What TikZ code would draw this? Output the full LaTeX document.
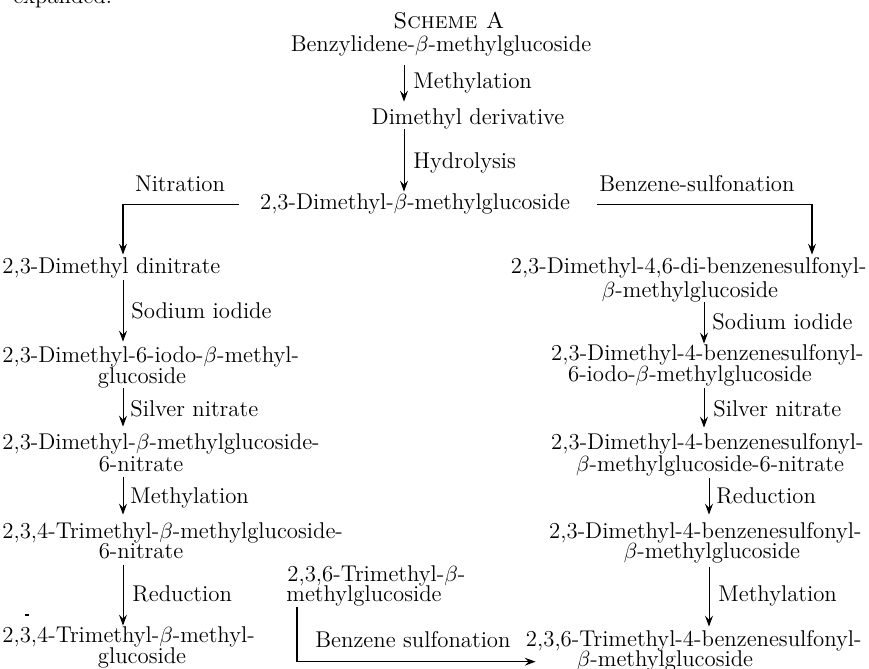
\documentclass[tikz,border=0pt]{standalone}
\usetikzlibrary{arrows.meta}
\begin{document}
\begin{tikzpicture}[x=0.5pt,y=-0.5pt,
  txt/.style={inner sep=0pt, font=\fontsize{11.4}{13}\selectfont, text height=8pt, text depth=2.5pt},
  cb/.style={txt, anchor=base},
  lb/.style={txt, anchor=base west},
  rb/.style={txt, anchor=base east},
  arr/.style={-{Stealth[length=5.5pt,width=4pt,inset=2pt]}, line width=0.5pt},
  conn/.style={-{Stealth[length=5.5pt,width=4pt,inset=2pt]}, line width=0.55pt}]
\useasboundingbox (0,0) rectangle (869,669);
% x positions of the vertical arrows
\coordinate (xC) at (404,0);
\coordinate (xL) at (123,0);
\coordinate (xR1) at (812,0);
\coordinate (xR2) at (704,0);
\coordinate (xR3) at (709,0);
\coordinate (xM) at (297,0);
% top
\node[lb] (exp) at (13,3.5) {expanded.};
\node[cb] (title) at (449,28) {\textsc{Scheme A}};
\node[cb] (benz) at (441,51) {Benzylidene-$\beta$-methylglucoside};
\node[lb] (l1) at (413,89) {Methylation};
\node[cb] (dimd) at (468,124) {Dimethyl derivative};
\node[lb] (l2) at (413,168) {Hydrolysis};
\node[cb] (c) at (415,209) {2,3-Dimethyl-$\beta$-methylglucoside};
\node[cb] (nitr) at (180,191) {Nitration};
\node[cb] (bsulf) at (697,191) {Benzene-sulfonation};
% left column
\node[lb] (L1) at (2,273) {2,3-Dimethyl dinitrate};
\node[lb] (ls1) at (131,318) {Sodium iodide};
\node[lb] (L2a) at (2,362) {2,3-Dimethyl-6-iodo-$\beta$-methyl-};
\node[cb] (L2b) at (142,383) {glucoside};
\node[lb] (ls2) at (130,416) {Silver nitrate};
\node[lb] (L3a) at (2,449) {2,3-Dimethyl-$\beta$-methylglucoside-};
\node[cb] (L3b) at (141,471) {6-nitrate};
\node[lb] (ls3) at (130,503) {Methylation};
\node[lb] (L4a) at (2,538) {2,3,4-Trimethyl-$\beta$-methylglucoside-};
\node[cb] (L4b) at (141,558) {6-nitrate};
\node[lb] (ls4) at (132,601) {Reduction};
\node[lb] (L5a) at (2,642) {2,3,4-Trimethyl-$\beta$-methyl-};
\node[cb] (L5b) at (142,663) {glucoside};
% middle bottom
\node[lb] (M1) at (287,581) {2,3,6-Trimethyl-$\beta$-};
\node[lb] (M2) at (286,601) {methylglucoside};
\node[lb] (lm) at (315,647) {Benzene sulfonation};
% right column
\node[rb] (R1a) at (867,273) {2,3-Dimethyl-4,6-di-benzenesulfonyl-};
\node[cb] (R1b) at (690,297) {$\beta$-methylglucoside};
\node[lb] (rs1) at (712,329) {Sodium iodide};
\node[rb] (R2a) at (864,360) {2,3-Dimethyl-4-benzenesulfonyl-};
\node[cb] (R2b) at (690,381) {6-iodo-$\beta$-methylglucoside};
\node[lb] (rs2) at (713,416) {Silver nitrate};
\node[rb] (R3a) at (864,449) {2,3-Dimethyl-4-benzenesulfonyl-};
\node[cb] (R3b) at (710,471) {$\beta$-methylglucoside-6-nitrate};
\node[lb] (rs3) at (716,503) {Reduction};
\node[rb] (R4a) at (862,538) {2,3-Dimethyl-4-benzenesulfonyl-};
\node[cb] (R4b) at (712,558) {$\beta$-methylglucoside};
\node[lb] (rs4) at (718,601) {Methylation};
\node[rb] (R5a) at (862,646) {2,3,6-Trimethyl-4-benzenesulfonyl-};
\node[cb] (R5b) at (665,666) {$\beta$-methylglucoside};
% centre arrows
\draw[arr, shorten <=4.5pt, shorten >=3pt] (benz.south -| xC) -- (dimd.north -| xC);
\draw[arr, shorten >=0.5pt] (dimd.south -| xC) -- (c.north -| xC);
% branches
\draw[conn, shorten <=10.5pt, shorten >=1pt] (c.mid west) -| (L1.north -| xL);
\draw[conn, shorten <=13.5pt, shorten >=1pt] (c.mid east) -| (R1a.north -| xR1);
% left arrows
\draw[arr, shorten <=1pt, shorten >=2pt] (L1.south -| xL) -- (L2a.north -| xL);
\draw[arr, shorten >=3pt] (L2b.south -| xL) -- (L3a.north -| xL);
\draw[arr, shorten <=0.5pt, shorten >=3.5pt] (L3b.south -| xL) -- (L4a.north -| xL);
\draw[arr, shorten <=1pt] (L4b.south -| xL) -- (L5a.north -| xL);
% right arrows
\draw[arr] (R1b.south -| xR2) -- (R2a.north -| xR2);
\draw[arr, shorten <=1pt, shorten >=2.5pt] (R2b.south -| xR2) -- (R3a.north -| xR2);
\draw[arr, shorten <=1pt, shorten >=3.5pt] (R3b.south -| xR3) -- (R4a.north -| xR3);
\draw[arr, shorten <=2pt, shorten >=1.5pt] (R4b.south -| xR3) -- (R5a.north -| xR3);
% bottom connector
\draw[conn, shorten <=0.5pt, shorten >=-5pt] (M2.south -| xM) |- (R5b.mid west -| R5a.west);
% stray mark
\draw[line width=0.6pt] (25,615) -- (29,615);
\end{tikzpicture}
\end{document}
